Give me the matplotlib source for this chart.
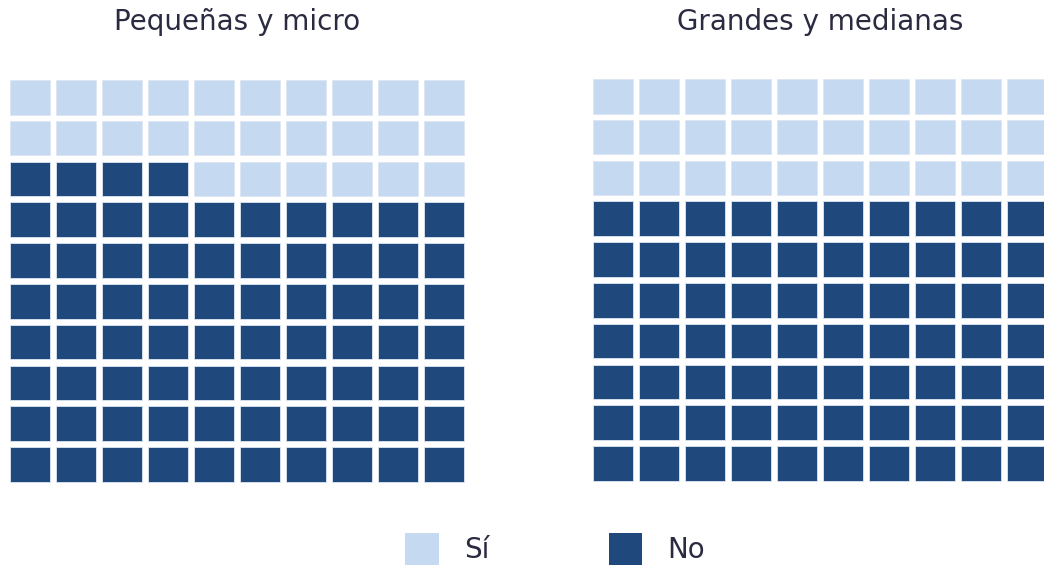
import matplotlib.pyplot as plt
from matplotlib.patches import Rectangle, Patch

# waffle data: 100 cells per group
groups = ["Pequeñas y micro", "Grandes y medianas"]
si_counts = [26, 30]
no_counts = [74, 70]
labels = ["Sí", "No"]
colors = ["#c5d9f1", "#1f497d"]

n_rows = 10
n_cols = 10
text_color = "#2a2a40"

plt.rcParams['font.family'] = ['DejaVu Sans']

W, H = 1044, 567
fig = plt.figure(figsize=(W / 100, H / 100), dpi=100)

# axes boxes in pixels: (left, top) of the grid, one data unit = one cell pitch
origins = [(10, 80), (593, 79)]
pitch_x, pitch_y = 46, 40.8
cell_w, cell_h = 40 / pitch_x, 34.5 / pitch_y

for gi, name in enumerate(groups):
    x0, y0 = origins[gi]
    ax = fig.add_axes([x0 / W, 1 - (y0 + n_rows * pitch_y) / H,
                       n_cols * pitch_x / W, n_rows * pitch_y / H])
    ax.set_xlim(0, n_cols)
    ax.set_ylim(n_rows, 0)
    ax.axis("off")

    # "No" fills from the bottom row upward, left to right
    n_no = no_counts[gi]
    for k in range(n_rows * n_cols):
        r = n_rows - 1 - k // n_cols
        c = k % n_cols
        col = colors[1] if k < n_no else colors[0]
        ax.add_patch(Rectangle((c, r), cell_w, cell_h, facecolor=col,
                               edgecolor="#dde6f2", linewidth=0.6))

    cx = (x0 + n_cols * pitch_x / 2 - 3) / W
    fig.text(cx, 1 - 22 / H, name, ha="center", va="center",
             fontsize=20, color=text_color)

handles = [Patch(facecolor=colors[i], edgecolor="none", label=labels[i])
           for i in range(2)]
fig.legend(handles=handles, loc="center", bbox_to_anchor=(555 / W, 1 - 549 / H),
           ncol=2, frameon=False, fontsize=20, handlelength=1.22,
           handleheight=1.4, handletextpad=0.88, columnspacing=4.3,
           labelcolor=text_color, borderpad=0, borderaxespad=0)

fig.savefig("out.png", dpi=100)
